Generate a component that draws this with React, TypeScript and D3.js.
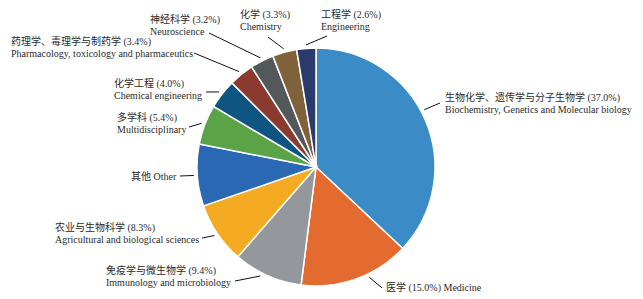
import React from "react";
import * as d3 from "d3";

const categoriesZh = [
  "生物化学、遗传学与分子生物学",
  "医学",
  "免疫学与微生物学",
  "农业与生物科学",
  "其他",
  "多学科",
  "化学工程",
  "药理学、毒理学与制药学",
  "神经科学",
  "化学",
  "工程学",
];
const categoriesEn = [
  "Biochemistry, Genetics and Molecular biology",
  "Medicine",
  "Immunology and microbiology",
  "Agricultural and biological sciences",
  "Other",
  "Multidisciplinary",
  "Chemical engineering",
  "Pharmacology, toxicology and pharmaceutics",
  "Neuroscience",
  "Chemistry",
  "Engineering",
];
const values = [37.0, 15.0, 9.4, 8.3, 8.4, 5.4, 4.0, 3.4, 3.2, 3.3, 2.6];
const showPercent = [true, true, true, true, false, true, true, true, true, true, true];
const singleLine = [false, true, false, false, true, false, false, false, false, false, false];

// styling / layout (not data)
const colors = [
  "#3b8bc6", "#e36b30", "#94979b", "#f4aa22", "#2a68b4", "#5aa447",
  "#0f5582", "#8b3a2f", "#53585b", "#80623a", "#2b3a6d",
];
const labelLayout = [
  { tx: 445, ty: 101, ex: 440, ey: 103, da: -4.5 },
  { tx: 386, ty: 291, ex: 382, ey: 288, da: -6 },
  { tx: 106, ty: 274, ex: 235, ey: 281, da: 3 },
  { tx: 55, ty: 231, ex: 202, ey: 238, da: 0 },
  { tx: 131, ty: 180, ex: 180, ey: 176, da: 0 },
  { tx: 117, ty: 121, ex: 189, ey: 127, da: 0 },
  { tx: 114, ty: 87, ex: 206, ey: 92, da: 0 },
  { tx: 11, ty: 45, ex: 194, ey: 53, da: 0 },
  { tx: 150, ty: 23, ex: 209, ey: 33, da: 0 },
  { tx: 240, ty: 18, ex: 268, ey: 37, da: 0 },
  { tx: 321, ty: 18, ex: 327, ey: 36, da: 0 },
];

const W = 643;
const H = 299;
const cx = 316;
const cy = 167;
const R = 119;
const FONT = '"Liberation Serif", "Times New Roman", "Noto Sans CJK SC", serif';

export default function App() {
  const pie = d3.pie<number>().sort(null).value((d) => d).startAngle(0).endAngle(2 * Math.PI);
  const arcs = pie(values);
  const arcGen = d3.arc<d3.PieArcDatum<number>>().innerRadius(0).outerRadius(R);

  return (
    <svg
      width={W}
      height={H}
      style={{ position: "absolute", left: 0, top: 0, background: "#fff", fontFamily: FONT }}
    >
      <g transform={`translate(${cx},${cy})`}>
        {arcs.map((a, i) => (
          <path key={i} d={arcGen(a) || ""} fill={colors[i]} stroke="#fff" strokeWidth={1.5} />
        ))}
      </g>
      {arcs.map((a, i) => {
        const L = labelLayout[i];
        const ang = (a.startAngle + a.endAngle) / 2 + (L.da * Math.PI) / 180;
        const rr = R + 3.5;
        const sx = cx + rr * Math.sin(ang);
        const sy = cy - rr * Math.cos(ang);
        const zh = categoriesZh[i];
        const en = categoriesEn[i];
        const pct = showPercent[i] ? ` (${values[i].toFixed(1)}%)` : "";
        return (
          <g key={i}>
            <line x1={sx} y1={sy} x2={L.ex} y2={L.ey} stroke="#111" strokeWidth={1} />
            {singleLine[i] ? (
              <text x={L.tx} y={L.ty} fontSize={10} fill="#2a2a2a">
                {`${zh}${pct} ${en}`}
              </text>
            ) : (
              <text x={L.tx} y={L.ty} fontSize={10} fill="#2a2a2a">
                <tspan x={L.tx} y={L.ty}>{`${zh}${pct}`}</tspan>
                <tspan x={L.tx} y={L.ty + 12}>{en}</tspan>
              </text>
            )}
          </g>
        );
      })}
    </svg>
  );
}
